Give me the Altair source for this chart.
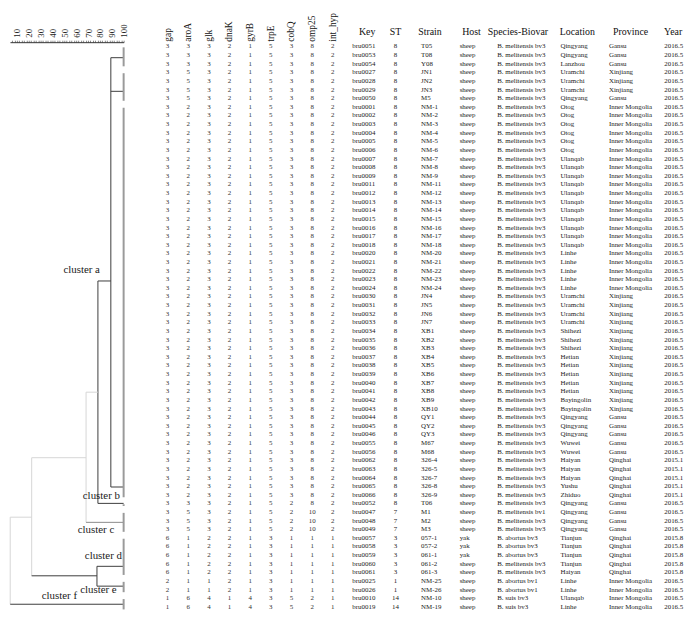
import altair as alt
import pandas as pd

FONT = "Liberation Serif"

# ---------------- table data (one entry per row, top to bottom) ----------------
keys = ["bru0051", "bru0053", "bru0054", "bru0027", "bru0028", "bru0029", "bru0050",
        "bru0001", "bru0002", "bru0003", "bru0004", "bru0005", "bru0006", "bru0007",
        "bru0008", "bru0009", "bru0011", "bru0012", "bru0013", "bru0014", "bru0015",
        "bru0016", "bru0017", "bru0018", "bru0020", "bru0021", "bru0022", "bru0023",
        "bru0024", "bru0030", "bru0031", "bru0032", "bru0033", "bru0034", "bru0035",
        "bru0036", "bru0037", "bru0038", "bru0039", "bru0040", "bru0041", "bru0042",
        "bru0043", "bru0044", "bru0045", "bru0046", "bru0055", "bru0056", "bru0062",
        "bru0063", "bru0064", "bru0065", "bru0066", "bru0052", "bru0047", "bru0048",
        "bru0049", "bru0057", "bru0058", "bru0059", "bru0060", "bru0061", "bru0025",
        "bru0026", "bru0010", "bru0019"]

st = ["8", "8", "8", "8", "8", "8", "8", "8", "8", "8",
      "8", "8", "8", "8", "8", "8", "8", "8", "8", "8",
      "8", "8", "8", "8", "8", "8", "8", "8", "8", "8",
      "8", "8", "8", "8", "8", "8", "8", "8", "8", "8",
      "8", "8", "8", "8", "8", "8", "8", "8", "8", "8",
      "8", "8", "8", "8", "7", "7", "7", "3", "3", "3",
      "3", "3", "1", "1", "14", "14"]

strains = ["T05", "T08", "Y08", "JN1", "JN2", "JN3", "M5", "NM-1", "NM-2", "NM-3",
           "NM-4", "NM-5", "NM-6", "NM-7", "NM-8", "NM-9", "NM-11", "NM-12", "NM-13", "NM-14",
           "NM-15", "NM-16", "NM-17", "NM-18", "NM-20", "NM-21", "NM-22", "NM-23", "NM-24", "JN4",
           "JN5", "JN6", "JN7", "XB1", "XB2", "XB3", "XB4", "XB5", "XB6", "XB7",
           "XB8", "XB9", "XB10", "QY1", "QY2", "QY3", "M67", "M68", "326-4", "326-5",
           "326-7", "326-8", "326-9", "T06", "M1", "M2", "M3", "057-1", "057-2", "061-1",
           "061-2", "061-3", "NM-25", "NM-26", "NM-10", "NM-19"]

hosts = ["sheep"] * 57 + ["yak", "yak", "yak"] + ["sheep"] * 6

species = ["B. melitensis bv3"] * 54 + ["B. melitensis bv1", "B. melitensis bv3", "B. melitensis bv3",
           "B. abortus bv3", "B. abortus bv3", "B. abortus bv3",
           "B. melitensis bv3", "B. melitensis bv3",
           "B. abortus bv1", "B. abortus bv1", "B. suis bv3", "B. suis bv3"]

locations = ["Qingyang", "Qingyang", "Lanzhou", "Uramchi", "Uramchi", "Uramchi", "Qingyang",
             "Otog", "Otog", "Otog", "Otog", "Otog", "Otog",
             "Ulanqab", "Ulanqab", "Ulanqab", "Ulanqab", "Ulanqab", "Ulanqab", "Ulanqab",
             "Ulanqab", "Ulanqab", "Ulanqab", "Ulanqab",
             "Linhe", "Linhe", "Linhe", "Linhe", "Linhe",
             "Uramchi", "Uramchi", "Uramchi", "Uramchi",
             "Shihezi", "Shihezi", "Shihezi",
             "Hetian", "Hetian", "Hetian", "Hetian", "Hetian",
             "Bayingolin", "Bayingolin",
             "Qingyang", "Qingyang", "Qingyang", "Wuwei", "Wuwei",
             "Haiyan", "Haiyan", "Haiyan", "Yushu", "Zhiduo",
             "Qingyang", "Qingyang", "Qingyang", "Qingyang",
             "Tianjun", "Tianjun", "Tianjun", "Tianjun", "Haiyan",
             "Linhe", "Linhe", "Ulanqab", "Linhe"]

provinces = (["Gansu"] * 3 + ["Xinjiang"] * 3 + ["Gansu"] + ["Inner Mongolia"] * 22
             + ["Xinjiang"] * 14 + ["Gansu"] * 5 + ["Qinghai"] * 5 + ["Gansu"] * 4
             + ["Qinghai"] * 5 + ["Inner Mongolia"] * 4)

years = (["2016.5"] * 48 + ["2015.1"] * 5 + ["2016.5"] * 4 + ["2015.8"] * 5 + ["2016.5"] * 4)

loci = ["gap", "aroA", "glk", "dnaK", "gyrB", "trpE", "cobQ", "omp25", "int_hyp"]

gap = [3, 3, 3, 3, 3, 3, 3, 3, 3, 3,
       3, 3, 3, 3, 3, 3, 3, 3, 3, 3,
       3, 3, 3, 3, 3, 3, 3, 3, 3, 3,
       3, 3, 3, 3, 3, 3, 3, 3, 3, 3,
       3, 3, 3, 3, 3, 3, 3, 3, 3, 3,
       3, 3, 3, 3, 3, 3, 3, 6, 6, 6,
       6, 6, 2, 2, 1, 1]
aroA = [3, 3, 3, 5, 5, 5, 5, 2, 2, 2,
        2, 2, 2, 2, 2, 2, 2, 2, 2, 2,
        2, 2, 2, 2, 2, 2, 2, 2, 2, 2,
        2, 2, 2, 2, 2, 2, 2, 2, 2, 2,
        2, 2, 2, 2, 2, 2, 2, 2, 2, 2,
        2, 2, 2, 3, 5, 5, 5, 1, 1, 1,
        1, 1, 1, 1, 6, 6]
glk = [3, 3, 3, 3, 3, 3, 3, 3, 3, 3,
       3, 3, 3, 3, 3, 3, 3, 3, 3, 3,
       3, 3, 3, 3, 3, 3, 3, 3, 3, 3,
       3, 3, 3, 3, 3, 3, 3, 3, 3, 3,
       3, 3, 3, 3, 3, 3, 3, 3, 3, 3,
       3, 3, 3, 3, 3, 3, 3, 2, 2, 2,
       2, 2, 1, 1, 4, 4]
dnaK = [2, 2, 2, 2, 2, 2, 2, 2, 2, 2,
        2, 2, 2, 2, 2, 2, 2, 2, 2, 2,
        2, 2, 2, 2, 2, 2, 2, 2, 2, 2,
        2, 2, 2, 2, 2, 2, 2, 2, 2, 2,
        2, 2, 2, 2, 2, 2, 2, 2, 2, 2,
        2, 2, 2, 2, 2, 2, 2, 2, 2, 2,
        2, 2, 2, 2, 1, 1]
gyrB = [1, 1, 1, 1, 1, 1, 1, 1, 1, 1,
        1, 1, 1, 1, 1, 1, 1, 1, 1, 1,
        1, 1, 1, 1, 1, 1, 1, 1, 1, 1,
        1, 1, 1, 1, 1, 1, 1, 1, 1, 1,
        1, 1, 1, 1, 1, 1, 1, 1, 1, 1,
        1, 1, 1, 1, 1, 1, 1, 1, 1, 1,
        1, 1, 1, 1, 4, 4]
trpE = [5, 5, 5, 5, 5, 5, 5, 5, 5, 5,
        5, 5, 5, 5, 5, 5, 5, 5, 5, 5,
        5, 5, 5, 5, 5, 5, 5, 5, 5, 5,
        5, 5, 5, 5, 5, 5, 5, 5, 5, 5,
        5, 5, 5, 5, 5, 5, 5, 5, 5, 5,
        5, 5, 5, 5, 5, 5, 5, 3, 3, 3,
        3, 3, 3, 3, 3, 3]
cobQ = [3, 3, 3, 3, 3, 3, 3, 3, 3, 3,
        3, 3, 3, 3, 3, 3, 3, 3, 3, 3,
        3, 3, 3, 3, 3, 3, 3, 3, 3, 3,
        3, 3, 3, 3, 3, 3, 3, 3, 3, 3,
        3, 3, 3, 3, 3, 3, 3, 3, 3, 3,
        3, 3, 3, 2, 2, 2, 2, 1, 1, 1,
        1, 1, 1, 1, 5, 5]
omp25 = [8, 8, 8, 8, 8, 8, 8, 8, 8, 8,
         8, 8, 8, 8, 8, 8, 8, 8, 8, 8,
         8, 8, 8, 8, 8, 8, 8, 8, 8, 8,
         8, 8, 8, 8, 8, 8, 8, 8, 8, 8,
         8, 8, 8, 8, 8, 8, 8, 8, 8, 8,
         8, 8, 8, 8, 10, 10, 10, 1, 1, 1,
         1, 1, 1, 1, 2, 2]
int_hyp = [2, 2, 2, 2, 2, 2, 2, 2, 2, 2,
           2, 2, 2, 2, 2, 2, 2, 2, 2, 2,
           2, 2, 2, 2, 2, 2, 2, 2, 2, 2,
           2, 2, 2, 2, 2, 2, 2, 2, 2, 2,
           2, 2, 2, 2, 2, 2, 2, 2, 2, 2,
           2, 2, 2, 2, 2, 2, 2, 1, 1, 1,
           1, 1, 1, 1, 1, 1]

# ---------------- dendrogram (similarity %, row position) ----------------
leaf_groups = ["G1", "G2", "G3", "G4", "G5", "G6", "G7", "G8"]
leaf_first = [1, 4, 8, 54, 55, 58, 63, 65]
leaf_last = [3, 7, 53, 54, 57, 62, 64, 66]
leaf_attach = [2.3, 6.2, 52.1, 54.0, 56.2, 61.3, 63.6, 65.7]

node_names = ["A1", "A", "B", "D", "C", "R"]
node_sim = [89.2, 78.3, 68.3, 77.5, 22.4, 4.3]
node_attach = [28.2, 41.1, 48.7, 62.4, 55.6, 60.0]
node_children = [["G1", "G2", "G3"], ["A1", "G4"], ["A", "G5"], ["G6", "G7"], ["B", "D"], ["C", "G8"]]
node_shade = ["dark", "dark", "light", "dark", "light", "light"]
branch_shade = [["dark", "dark", "dark"], ["dark", "dark"], ["light", "mid"],
                ["dark", "dark"], ["light", "dark"], ["light", "dark"]]

cluster_labels = ["cluster a", "cluster b", "cluster c", "cluster d", "cluster e", "cluster f"]
cluster_sim = [64.6, 81.2, 76.7, 82.9, 78.7, 45.8]
cluster_row = [26.9, 53.1, 57.1, 60.1, 64.0, 64.8]

# ---------------- build tables ----------------
n = len(keys)
rows = list(range(1, n + 1))

pos = {}
for g, a in zip(leaf_groups, leaf_attach):
    pos[g] = (100.0, a)
for nm, s, a in zip(node_names, node_sim, node_attach):
    pos[nm] = (s, a)

segs = []
for nm, s, kids, sh, bsh in zip(node_names, node_sim, node_children, node_shade, branch_shade):
    krows = [pos[k][1] for k in kids]
    segs.append(dict(x=s, x2=s, y=min(krows), y2=max(krows), shade=sh))
    for k, b in zip(kids, bsh):
        segs.append(dict(x=s, x2=pos[k][0], y=pos[k][1], y2=pos[k][1], shade=b))
seg_df = pd.DataFrame(segs)

leaf_df = pd.DataFrame({"x": [100.0] * len(leaf_groups),
                        "y": [f + 0.1 for f in leaf_first],
                        "y2": [l + 0.3 for l in leaf_last]})
lab_df = pd.DataFrame({"label": cluster_labels, "x": cluster_sim, "y": cluster_row})

H = 575.7
ys = alt.Scale(domain=[0.5, 66.5], reverse=True, nice=False, zero=False)
ynone = alt.Y("y:Q", scale=ys, axis=None)

xs = alt.Scale(domain=[4.1, 100], range=[0, 115], nice=False, zero=False)
xaxis = alt.Axis(orient="top", title=None, values=list(range(6, 101, 2)),
                 labelExpr="datum.value % 10 === 0 ? datum.label : ''",
                 labelAngle=270, labelAlign="left", labelBaseline="middle",
                 labelFontSize=9, labelPadding=3, tickSize=2, tickWidth=0.6,
                 domainColor="#333333", tickColor="#333333", labelColor="#222222",
                 labelOverlap=False, labelFont=FONT, grid=False)

rules = alt.Chart(seg_df).mark_rule(strokeWidth=1).encode(
    x=alt.X("x:Q", scale=xs, axis=xaxis), x2="x2", y=ynone, y2="y2",
    color=alt.Color("shade:N", scale=alt.Scale(domain=["dark", "mid", "light"],
                                                range=["#3c3c3c", "#8a8a8a", "#d6d6d6"]),
                    legend=None))
leaves = alt.Chart(leaf_df).mark_rule(strokeWidth=2, color="#9a9a9a").encode(
    x=alt.X("x:Q", scale=xs, axis=xaxis), y=ynone, y2="y2")
labels = alt.Chart(lab_df).mark_text(font=FONT, fontSize=11, color="#1a1a1a",
                                     align="center", baseline="middle").encode(
    x=alt.X("x:Q", scale=xs, axis=xaxis), y=ynone, text="label:N")

dendro = alt.layer(rules, leaves, labels).properties(width=148.5, height=H)

# allele profile panel
allele_cols = [gap, aroA, glk, dnaK, gyrB, trpE, cobQ, omp25, int_hyp]
al = []
for locus, vals in zip(loci, allele_cols):
    for r, v in zip(rows, vals):
        al.append(dict(y=r, locus=locus, value=str(v)))
al_df = pd.DataFrame(al)

alleles = alt.Chart(al_df).mark_text(font=FONT, fontSize=7, color="#333333",
                                     baseline="middle").encode(
    x=alt.X("locus:N", sort=loci,
            scale=alt.Scale(type="band", paddingInner=0, paddingOuter=0),
            axis=alt.Axis(orient="top", title=None, labelAngle=270, labelAlign="left",
                          labelBaseline="middle", domain=False, ticks=False,
                          labelPadding=1, labelFontSize=9.5, labelFont=FONT,
                          labelColor="#111111")),
    y=ynone, text="value:N").properties(width=188.1, height=H)

# metadata columns: (header, values, band start, band end, panel width, align)
meta_specs = [
    ("Key", keys, 8.4, 38.4, 42.4, "left"),
    ("ST", st, 0, 18, 35, "center"),
    ("Strain", strains, 0, 18, 39, "left"),
    ("Host", hosts, 0, 24, 38, "left"),
    ("Species-Biovar", species, 0, 42, 64, "left"),
    ("Location", locations, 0, 34, 49, "left"),
    ("Province", provinces, 0, 44, 56, "left"),
    ("Year", years, 0, 18, 16, "left"),
]

meta_panels = []
for header, vals, b0, b1, w, align in meta_specs:
    df = pd.DataFrame({"y": rows, "col": [header] * n, "value": vals})
    meta_panels.append(
        alt.Chart(df).mark_text(font=FONT, fontSize=7, color="#222222", align=align,
                                baseline="middle").encode(
            x=alt.X("col:N", bandPosition=0 if align == "left" else 0.5,
                    scale=alt.Scale(type="band", range=[b0, b1], paddingInner=0,
                                    paddingOuter=0),
                    axis=alt.Axis(orient="top", title=None, labelAngle=0, domain=False,
                                  ticks=False, labelPadding=6, labelFontSize=10,
                                  labelFont=FONT, labelColor="#111111")),
            y=ynone, text="value:N").properties(width=w, height=H))

chart = alt.hconcat(dendro, alleles, *meta_panels, spacing=0, bounds="flush",
                    padding=0).configure_view(stroke=None).configure_axis(grid=False)

chart.save("out.html", embed_options={"renderer": "svg", "actions": False})
